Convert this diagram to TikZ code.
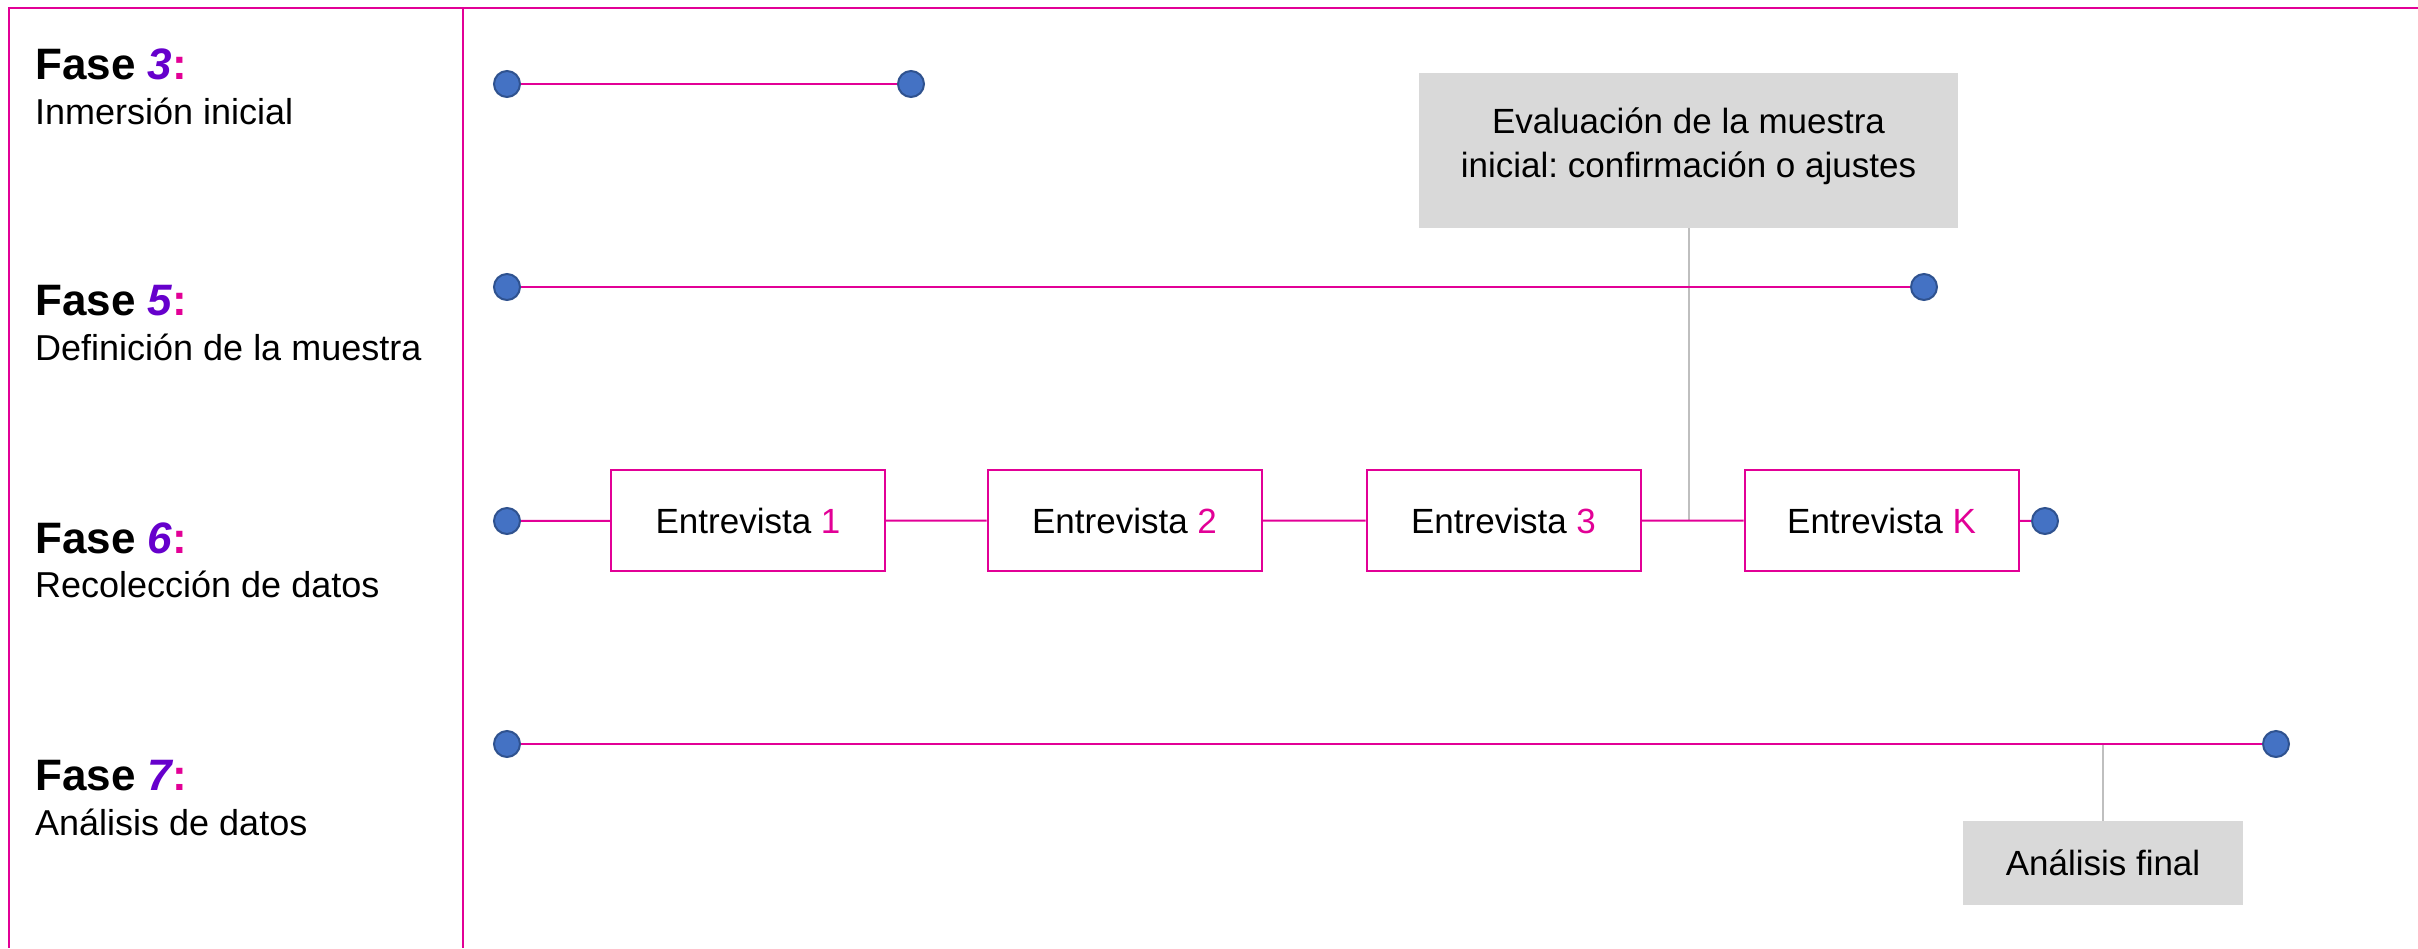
\documentclass[tikz,border=0pt]{standalone}
\usepackage{fontspec}
\setmainfont{Liberation Sans}
\frenchspacing
\definecolor{mypink}{RGB}{226,0,150}
\definecolor{mypurple}{RGB}{102,0,204}
\definecolor{dotblue}{RGB}{68,114,196}
\definecolor{dotborder}{RGB}{47,82,143}
\definecolor{boxgray}{RGB}{217,217,217}
\definecolor{conngray}{RGB}{191,191,191}
\begin{document}
\begin{tikzpicture}[x=1pt,y=-1pt,
  frameline/.style={draw=mypink, line width=2.5pt},
  pinkline/.style={draw=mypink, line width=2pt},
  dot/.style={circle, fill=dotblue, draw=dotborder, line width=2pt, minimum size=26pt, inner sep=0pt},
  ebox/.style={draw=mypink, line width=2pt, fill=white, minimum width=274pt, minimum height=101pt, inner sep=0pt, font=\fontsize{35}{42}\selectfont},
  gbox/.style={fill=boxgray, inner sep=0pt, align=center, font=\fontsize{35}{44}\selectfont},
  conn/.style={draw=conngray, line width=2pt},
  phasetitle/.style={anchor=base west, inner sep=0pt, font=\bfseries\fontsize{44}{52}\selectfont},
  phasesub/.style={anchor=base west, inner sep=0pt, font=\fontsize{36}{43}\selectfont}]
\useasboundingbox (0,0) rectangle (2418,948);
% frame
\draw[frameline] (9,948) -- (9,8) -- (2418,8);
\draw[frameline] (463,8) -- (463,948);
% phase labels
\node[phasetitle] (t3) at (35,79) {Fase {\color{mypurple}\itshape 3}{\color{mypink}:}};
\node[phasesub] (s3) at (35,124) {Inmersión inicial};
\node[phasetitle] (t5) at (35,315) {Fase {\color{mypurple}\itshape 5}{\color{mypink}:}};
\node[phasesub] (s5) at (35,360) {Definición de la muestra};
\node[phasetitle] (t6) at (35,553) {Fase {\color{mypurple}\itshape 6}{\color{mypink}:}};
\node[phasesub] (s6) at (35,597) {Recolección de datos};
\node[phasetitle] (t7) at (35,790) {Fase {\color{mypurple}\itshape 7}{\color{mypink}:}};
\node[phasesub] (s7) at (35,835) {Análisis de datos};
% grey boxes and their connectors
\node[gbox, minimum width=539pt, minimum height=155pt, text depth=16pt] (eval) at (1688.5,150.5) {Evaluación de la muestra\\inicial: confirmación o ajustes};
\coordinate (j1) at (1688.5,521);
\draw[conn] (eval.south) -- (j1);
\node[gbox, minimum width=280pt, minimum height=84pt] (fin) at (2103,863) {Análisis final};
\coordinate (j2) at (2103,744);
\draw[conn] (j2) -- (fin.north);
% phase 3
\node[dot] (a0) at (507,84) {};
\node[dot] (a1) at (911,84) {};
\draw[pinkline] (a0) -- (a1);
% phase 5
\node[dot] (b0) at (507,287) {};
\node[dot] (b1) at (1924,287) {};
\draw[pinkline] (b0) -- (b1);
% phase 6
\node[dot] (c0) at (507,521) {};
\node[ebox] (e1) at (748,520.5) {Entrevista {\color{mypink}1}};
\node[ebox] (e2) at (1124.5,520.5) {Entrevista {\color{mypink}2}};
\node[ebox] (e3) at (1503.5,520.5) {Entrevista {\color{mypink}3}};
\node[ebox] (eK) at (1881.5,520.5) {Entrevista {\color{mypink}K}};
\node[dot] (c1) at (2045,521) {};
\draw[pinkline] (c0) -- (e1) -- (e2) -- (e3) -- (eK) -- (c1);
% phase 7
\node[dot] (d0) at (507,744) {};
\node[dot] (d1) at (2276,744) {};
\draw[pinkline] (d0) -- (d1);
\end{tikzpicture}
\end{document}
